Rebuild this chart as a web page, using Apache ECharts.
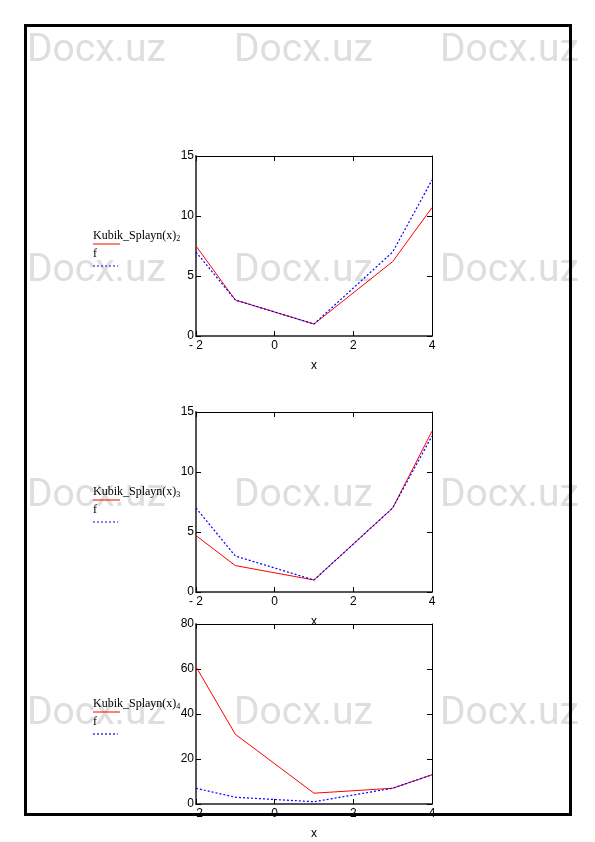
<!DOCTYPE html>
<html>
<head>
<meta charset="utf-8">
<script src="https://cdn.jsdelivr.net/npm/echarts@6/dist/echarts.min.js"></script>
<style>
  html, body { margin: 0; padding: 0; background: #ffffff; }
  #chart { width: 595px; height: 842px; }
</style>
</head>
<body>
<div id="chart"></div>
<script>
  // x nodes and values
  const xs = [-2, -1, 1, 3, 4];
  const f = [7, 3, 1, 7, 13];
  const spline2 = [7.5, 3, 1, 6.2, 10.7];
  const spline3 = [4.7, 2.2, 1, 7, 13.4];
  const spline4 = [61, 31, 4.8, 7, 13];

  const yMax = [15, 15, 80];
  const yStep = [5, 5, 20];
  const subs = ['2', '3', '4'];
  const splines = [spline2, spline3, spline4];

  // layout of the three plots
  const gridTop = [156, 412, 624];
  const gridH = 180;
  const gridLeft = 196;
  const gridW = 236;

  const pairs = ys => xs.map( ( x, i ) => [ x, ys[i] ] );
  const fmtX = v => v < 0 ? '- ' + Math.abs( v ) : String( v );

  const chart = echarts.init( document.getElementById( 'chart' ) );

  const grid = [], xAxis = [], yAxis = [], series = [], graphic = [];

  // watermark
  [54, 274, 499, 717].forEach( y => {
    [27, 234, 440].forEach( x => {
      graphic.push( {
        type: 'text', left: x, top: y - 22, z: 0, silent: true,
        style: { text: 'Docx.uz', fontFamily: 'Roboto', fontSize: 39, fill: '#dedede' }
      } );
    } );
  } );

  for ( let k = 0; k < 3; k++ ) {
    grid.push( { left: gridLeft, top: gridTop[k], width: gridW, height: gridH, show: false } );
    const xBase = {
      type: 'value', gridIndex: k, min: -2, max: 4, interval: 2,
      splitLine: { show: false },
      axisTick: { show: true, inside: true, length: 5, lineStyle: { color: '#000' } }
    };
    xAxis.push( Object.assign( {}, xBase, {
      position: 'bottom',
      name: 'x', nameLocation: 'middle', nameGap: 24,
      nameTextStyle: { fontFamily: 'Liberation Sans', fontSize: 12, color: '#000' },
      axisLine: { onZero: false, lineStyle: { color: '#555', width: 2 } },
      axisLabel: { formatter: fmtX, fontFamily: 'Liberation Sans', fontSize: 12, color: '#000', margin: 4 }
    } ) );
    xAxis.push( Object.assign( {}, xBase, {
      position: 'top',
      axisLine: { onZero: false, lineStyle: { color: '#000', width: 1 } },
      axisLabel: { show: false }
    } ) );
    const yBase = {
      type: 'value', gridIndex: k, min: 0, max: yMax[k], interval: yStep[k],
      splitLine: { show: false },
      axisTick: { show: true, inside: true, length: 5, lineStyle: { color: '#000' } }
    };
    yAxis.push( Object.assign( {}, yBase, {
      position: 'left',
      axisLine: { onZero: false, lineStyle: { color: '#555', width: 2 } },
      axisLabel: { fontFamily: 'Liberation Sans', fontSize: 12, color: '#000', margin: 2 }
    } ) );
    yAxis.push( Object.assign( {}, yBase, {
      position: 'right',
      axisLine: { onZero: false, lineStyle: { color: '#000', width: 1 } },
      axisLabel: { show: false }
    } ) );

    series.push( {
      name: 'Kubik_Splayn(x)' + subs[k], type: 'line',
      xAxisIndex: 2 * k, yAxisIndex: 2 * k,
      data: pairs( splines[k] ), symbol: 'none', z: 3,
      lineStyle: { color: '#ff0000', width: 1 }
    } );
    series.push( {
      name: 'f', type: 'line',
      xAxisIndex: 2 * k, yAxisIndex: 2 * k,
      data: pairs( f ), symbol: 'none', z: 4,
      lineStyle: { color: '#0000ff', width: 1.2, type: [2, 2] }
    } );

    // legend block to the left of each plot
    const ly = 237 + ( gridTop[k] - gridTop[0] );
    graphic.push( {
      type: 'text', left: 93, top: ly - 7, z: 10,
      style: {
        text: 'Kubik_Splayn(x){s|' + subs[k] + '}',
        fontFamily: 'Liberation Serif', fontSize: 12, fill: '#000',
        rich: { s: { fontFamily: 'Liberation Serif', fontSize: 8, fill: '#000', padding: [6, 0, 0, 0] } }
      }
    } );
    graphic.push( {
      type: 'line', z: 10,
      shape: { x1: 93, y1: ly + 7, x2: 120, y2: ly + 7 },
      style: { stroke: '#ff0000', lineWidth: 1 }
    } );
    graphic.push( {
      type: 'text', left: 93, top: ly + 11, z: 10,
      style: { text: 'f', fontFamily: 'Liberation Serif', fontSize: 12, fill: '#000' }
    } );
    graphic.push( {
      type: 'line', z: 10,
      shape: { x1: 93, y1: ly + 29, x2: 118, y2: ly + 29 },
      style: { stroke: '#0000ff', lineWidth: 1.2, lineDash: [2, 2] }
    } );
  }

  // page frame
  graphic.push( {
    type: 'rect', z: 100, silent: true,
    shape: { x: 25.5, y: 25.5, width: 545, height: 789 },
    style: { fill: 'none', stroke: '#000', lineWidth: 3 }
  } );

  chart.setOption( {
    animation: false,
    backgroundColor: '#ffffff',
    grid: grid,
    xAxis: xAxis,
    yAxis: yAxis,
    series: series,
    graphic: graphic
  } );
</script>
</body>
</html>
